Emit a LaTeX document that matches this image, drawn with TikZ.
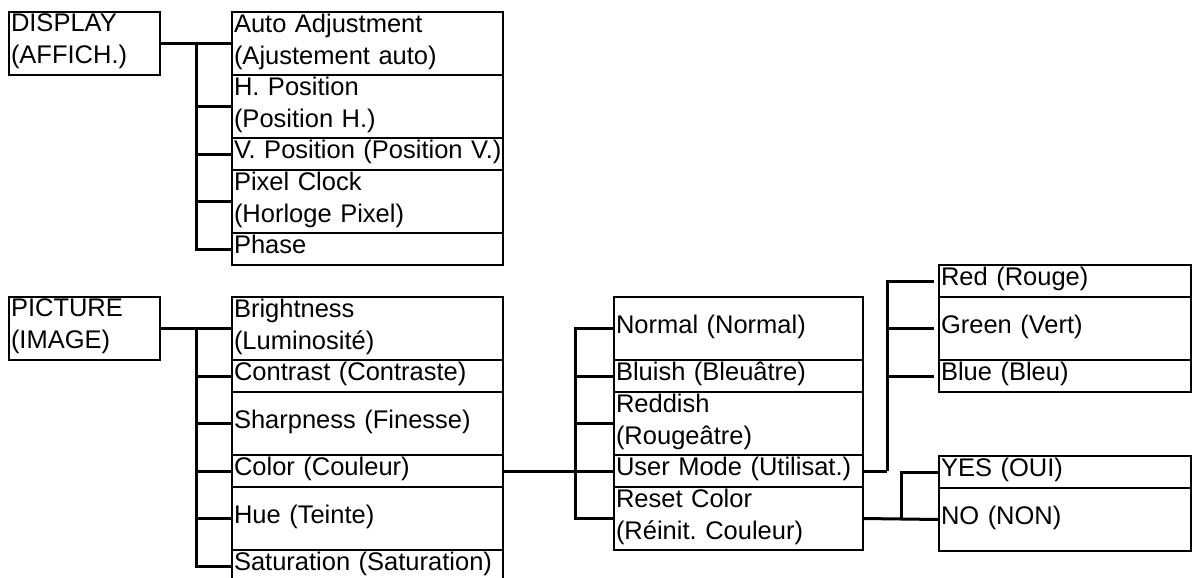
\documentclass[tikz,border=0pt]{standalone}
\usepackage{fontspec}
\setmainfont{Liberation Sans}
\usetikzlibrary{positioning,calc}
\frenchspacing
\newcommand{\menufont}{\fontsize{25.5}{32}\selectfont}
\tikzset{
    menubox/.style={
        rectangle,                % caja simple
        draw, line width=2pt,     % borde negro
        outer sep=0pt,            % las cajas apiladas comparten borde
        inner xsep=2pt,
        inner ysep=0pt,
        text width=#1,            % ancho de la columna menos los márgenes
        align=left,
        font=\menufont,
        minimum height=32pt,      % fila de una línea
        anchor=north west,
        execute at end node={\rule[-9pt]{0pt}{9pt}} % sube un poco el texto
    },
    tallbox/.style={
        minimum height=63pt       % fila de dos líneas
    },
    conn/.style={
        line width=3pt
    }
}

\begin{document}
\begin{tikzpicture}[x=1pt,y=-1pt]
\useasboundingbox (0,0) rectangle (1192,578);

% menú DISPLAY
\node[menubox=147pt, tallbox] (disp) at (9,12) {DISPLAY\\(AFFICH.)};
\node[menubox=267pt, tallbox] (auto) at (232,12) {Auto Adjustment\\(Ajustement auto)};
\node[menubox=267pt, tallbox, below=0pt of auto] (hpos) {H. Position\\(Position H.)};
\node[menubox=267pt, below=0pt of hpos] (vpos) {\mbox{V. Position (Position V.)}};
\node[menubox=267pt, tallbox, below=0pt of vpos] (clock) {Pixel Clock\\(Horloge Pixel)};
\node[menubox=267pt, below=0pt of clock] (phase) {Phase};

% menú PICTURE
\node[menubox=147pt, tallbox] (pict) at (9,297) {PICTURE\\(IMAGE)};
\node[menubox=267pt, tallbox] (bright) at (232,297) {Brightness\\(Luminosité)};
\node[menubox=267pt, below=0pt of bright] (contr) {Contrast (Contraste)};
\node[menubox=267pt, tallbox, below=0pt of contr] (sharp) {Sharpness (Finesse)};
\node[menubox=267pt, below=0pt of sharp] (color) {Color (Couleur)};
\node[menubox=267pt, tallbox, below=0pt of color] (hue) {Hue (Teinte)};
\node[menubox=267pt, below=0pt of hue] (satur) {Saturation (Saturation)};

% submenú Color
\node[menubox=245pt, tallbox] (normal) at (614,297) {Normal (Normal)};
\node[menubox=245pt, below=0pt of normal] (bluish) {Bluish (Bleuâtre)};
\node[menubox=245pt, tallbox, below=0pt of bluish] (reddish) {Reddish\\(Rougeâtre)};
\node[menubox=245pt, below=0pt of reddish] (user) {User Mode (Utilisat.)};
\node[menubox=245pt, tallbox, below=0pt of user] (reset) {Reset Color\\(Réinit. Couleur)};

% submenús User Mode y Reset Color
\node[menubox=248pt] (red) at (939,265) {Red (Rouge)};
\node[menubox=248pt, tallbox, below=0pt of red] (green) {Green (Vert)};
\node[menubox=248pt, below=0pt of green] (blue) {Blue (Bleu)};
\node[menubox=248pt] (yes) at (939,456) {YES (OUI)};
\node[menubox=248pt, tallbox, below=0pt of yes] (no) {NO (NON)};

% conexiones
\coordinate (dj) at ($(disp.east)!.5!(auto.west)$);
\draw[conn] (disp.east) -- (auto.west);
\foreach \n in {hpos,vpos,clock,phase}
    \draw[conn] (dj) |- (\n.west);

\coordinate (pj) at ($(pict.east)!.5!(bright.west)$);
\draw[conn] (pict.east) -- (bright.west);
\foreach \n in {contr,sharp,color,hue,satur}
    \draw[conn] (pj) |- (\n.west);

\coordinate (cj) at ($(color.east)!.65!(user.west)$);
\draw[conn] (color.east) -- (user.west);
\foreach \n in {normal,bluish,reddish,reset}
    \draw[conn] (cj) |- (\n.west);

\coordinate (uj) at ($(user.east)+(24,0)$);
\draw[conn] (user.east) -- (uj);
\foreach \n in {red,green,blue}
    \draw[conn, shorten >=5pt] (uj) |- (\n.west);

\coordinate (rj) at ($(reset.east)!.5!(no.west)$);
\draw[conn] (reset.east) -- (no.west);
\draw[conn] (rj) |- (yes.west);
\end{tikzpicture}
\end{document}
